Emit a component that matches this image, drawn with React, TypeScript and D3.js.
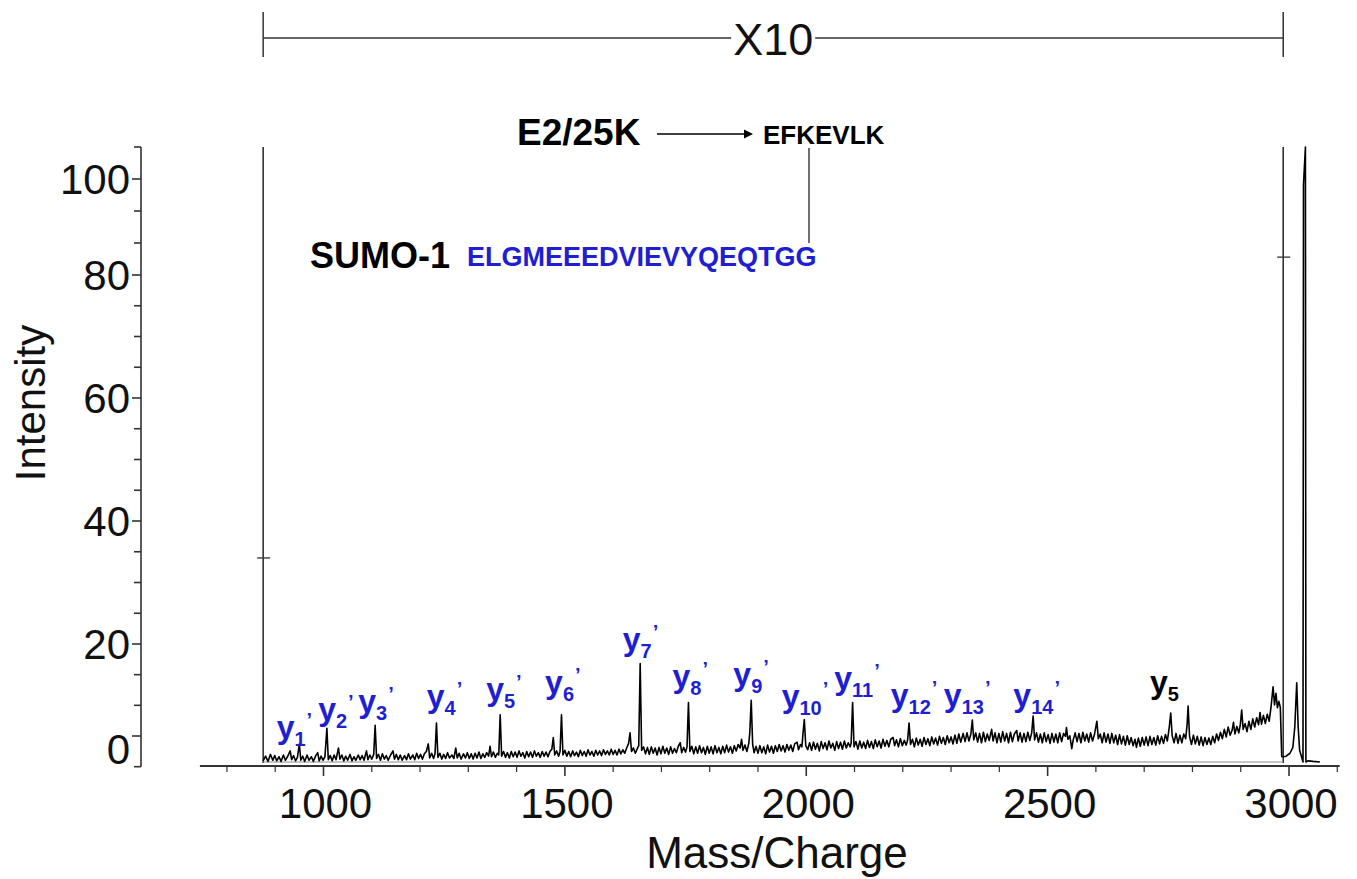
import React from "react";
import * as d3 from "d3";

const W = 1357;
const H = 879;

// ---------- data ----------
const xMajorTicks = [1000, 1500, 2000, 2500, 3000];
const xMinorTicks = [800, 900, 1100, 1200, 1300, 1400, 1600, 1700, 1800, 1900, 2100, 2200, 2300, 2400, 2600, 2700, 2800, 2900, 3100];
const xAxisExtent = [744, 3105];

const yMajorTicks = [0, 20, 40, 60, 80, 100];
const yMinorTicks = [-6.67, 6.67, 13.33, 25, 30, 35, 45, 50, 55, 65, 70, 75, 86.67, 93.33, 106.67];

// magnified (X10) window in m/z
const magnifiedRange = [875, 2988];
const magnifiedLabel = "X10";
const frameMarks: [number, number][] = [[875, 35], [2988, 86.6]];

// spectrum: [m/z, displayed intensity]
const spectrum: [number, number][] = [
  [875, 0.2], [880, 1.0], [885, 0.1], [890, 1.3], [895, 0.3], [899, 1.1], [903, 0.2], [908, 0.9], [912, 0.1], [917, 1.2],
  [921, 0.3], [926, 1.0], [931, 1.9], [934, 0.4], [938, 1.1], [942, 0.2], [946, 0.8], [950, 3.1], [953, 0.3], [957, 1.0],
  [961, 0.1], [966, 1.2], [970, 0.3], [975, 0.9], [979, 0.1], [984, 1.1], [988, 1.6], [991, 0.2], [995, 1.0], [999, 0.3],
  [1003, 0.9], [1007, 5.8], [1010, 0.4], [1014, 1.1], [1018, 0.2], [1022, 1.2], [1026, 0.4], [1031, 2.4], [1034, 0.5], [1038, 1.2],
  [1042, 0.2], [1046, 1.0], [1050, 0.3], [1055, 1.3], [1059, 0.2], [1063, 0.9], [1067, 0.3], [1072, 1.2], [1076, 0.4], [1080, 1.1],
  [1084, 0.3], [1089, 1.9], [1092, 0.4], [1096, 1.2], [1100, 0.5], [1104, 1.3], [1107, 6.3], [1110, 0.6], [1114, 1.3], [1118, 0.3],
  [1122, 1.4], [1126, 0.5], [1130, 1.1], [1134, 0.3], [1139, 1.2], [1144, 1.9], [1147, 0.5], [1151, 1.3], [1155, 0.4], [1159, 1.2],
  [1163, 0.3], [1168, 1.1], [1172, 0.4], [1176, 1.4], [1180, 0.5], [1185, 1.2], [1189, 0.4], [1193, 1.5], [1197, 0.6], [1201, 1.3],
  [1205, 0.5], [1209, 1.4], [1213, 1.8], [1217, 3.1], [1220, 0.7], [1224, 1.5], [1228, 0.6], [1231, 1.4], [1234, 6.7], [1237, 0.8],
  [1241, 1.5], [1245, 0.5], [1249, 1.3], [1253, 0.6], [1257, 1.6], [1261, 0.7], [1266, 1.2], [1270, 0.6], [1274, 2.4], [1277, 0.7],
  [1281, 1.5], [1285, 0.5], [1290, 1.4], [1294, 0.7], [1298, 1.6], [1302, 0.6], [1306, 1.4],
  [1310, 0.5], [1314, 1.5], [1318, 0.7], [1322, 1.7], [1326, 0.6], [1330, 1.4], [1334, 0.8], [1338, 1.6], [1342, 1.0], [1345, 2.7],
  [1348, 0.9], [1352, 1.7], [1356, 0.8], [1360, 1.5], [1363, 1.2], [1366, 8.1], [1369, 1.0], [1373, 1.8], [1377, 0.8], [1381, 1.6],
  [1385, 0.7], [1389, 1.8], [1393, 0.9], [1397, 1.7], [1401, 0.8], [1405, 1.9], [1409, 1.0], [1413, 1.6], [1417, 0.7], [1421, 1.8],
  [1425, 0.9], [1429, 1.7], [1433, 0.8], [1437, 1.9], [1441, 1.0], [1445, 1.6], [1449, 0.8], [1453, 1.8], [1457, 1.0], [1461, 1.7],
  [1465, 0.9], [1469, 1.8], [1473, 2.2], [1476, 4.2], [1479, 1.2], [1483, 1.9], [1487, 1.0], [1490, 1.8], [1493, 8.1], [1496, 1.2],
  [1500, 2.0], [1504, 1.0], [1508, 1.8], [1512, 0.9], [1516, 1.9], [1520, 1.1], [1524, 1.7], [1528, 0.9], [1532, 2.0], [1536, 1.1],
  [1540, 1.8], [1544, 1.0], [1548, 2.1], [1552, 1.2], [1556, 1.8], [1560, 1.0], [1564, 2.0], [1568, 1.2], [1572, 1.9], [1576, 1.1],
  [1580, 2.1], [1584, 1.3], [1588, 1.9], [1592, 1.2], [1596, 2.2], [1600, 1.3], [1604, 2.0], [1608, 1.2], [1612, 2.2], [1616, 1.4],
  [1620, 2.1], [1624, 1.5], [1628, 2.4], [1632, 3.2], [1635, 5.0], [1638, 1.8], [1642, 2.4], [1646, 1.5], [1650, 2.3], [1653, 2.8],
  [1656, 16.9], [1659, 2.0],
  [1663, 2.6], [1667, 1.4], [1671, 2.5], [1675, 1.3], [1679, 2.6], [1683, 1.5], [1687, 2.4], [1691, 1.2], [1695, 2.5], [1699, 1.4],
  [1703, 2.7], [1707, 1.5], [1711, 2.4], [1715, 1.3], [1719, 2.6], [1723, 1.5], [1727, 2.3], [1731, 1.6], [1735, 2.7], [1739, 3.3],
  [1742, 1.6], [1746, 2.5], [1750, 1.7], [1753, 2.6], [1756, 10.2], [1759, 1.8], [1763, 2.7], [1767, 1.4], [1771, 2.6], [1775, 1.5],
  [1779, 2.8], [1783, 1.6], [1787, 2.5], [1791, 1.3], [1795, 2.7], [1799, 1.5], [1803, 2.6], [1807, 1.4], [1811, 2.8], [1815, 1.6],
  [1819, 2.5], [1823, 1.4], [1827, 2.7], [1831, 1.6], [1835, 2.9], [1839, 1.7], [1843, 2.6], [1847, 1.5], [1851, 2.8], [1855, 1.9],
  [1859, 3.0], [1863, 2.4], [1866, 3.9], [1869, 2.0], [1873, 2.9], [1877, 1.8], [1881, 3.2], [1883, 5.0], [1886, 10.6], [1889, 3.0],
  [1892, 1.6], [1896, 2.7], [1900, 1.5], [1904, 2.8], [1908, 1.6], [1912, 2.6], [1916, 1.4], [1920, 2.9], [1924, 1.7], [1928, 2.7],
  [1932, 1.5], [1936, 2.8], [1940, 1.8], [1944, 3.0], [1948, 1.9], [1952, 2.8], [1956, 1.7], [1960, 3.0], [1964, 2.0], [1968, 2.9],
  [1972, 1.8], [1976, 3.1], [1981, 3.4], [1984, 2.1], [1988, 3.0], [1991, 2.6], [1993, 4.6], [1996, 7.3], [1999, 2.8],
  [2003, 2.1], [2007, 3.3], [2011, 2.0], [2015, 3.4], [2019, 2.2], [2023, 3.2], [2027, 1.9], [2031, 3.5], [2035, 2.3], [2039, 3.3],
  [2043, 2.1], [2047, 3.6], [2051, 2.4], [2055, 3.2], [2059, 2.0], [2063, 3.5], [2067, 2.3], [2071, 3.4], [2075, 2.2], [2079, 3.6],
  [2083, 2.4], [2087, 3.3], [2091, 2.6], [2093, 3.2], [2096, 10.2], [2099, 2.6], [2103, 3.5], [2107, 2.2], [2111, 3.6], [2115, 2.4],
  [2119, 3.4], [2123, 2.3], [2127, 3.7], [2131, 2.5], [2135, 3.5], [2139, 2.3], [2143, 3.8], [2147, 2.6], [2151, 3.6], [2155, 2.4],
  [2159, 3.9], [2163, 2.7], [2167, 3.7], [2171, 2.6], [2175, 3.9], [2180, 4.2], [2183, 2.8], [2187, 3.8], [2191, 2.6], [2195, 4.0],
  [2199, 2.8], [2203, 3.7], [2207, 2.9], [2210, 3.8], [2213, 6.7], [2216, 3.0], [2220, 3.9], [2224, 2.6], [2228, 4.1], [2232, 2.9],
  [2236, 3.9], [2240, 2.7], [2244, 4.2], [2248, 3.0], [2252, 4.0], [2256, 2.8], [2260, 4.3], [2264, 3.1], [2268, 4.1], [2272, 2.9],
  [2276, 4.4], [2280, 3.2], [2284, 4.2], [2288, 3.0], [2292, 4.5], [2296, 3.3], [2300, 4.3],
  [2304, 3.1], [2308, 4.6], [2312, 3.2], [2316, 4.8], [2320, 3.4], [2325, 4.9], [2329, 3.5], [2333, 5.0], [2337, 3.6], [2341, 4.8],
  [2344, 7.2], [2347, 3.8], [2351, 5.0], [2355, 3.4], [2359, 4.9], [2363, 3.3], [2367, 5.1], [2371, 3.5], [2375, 4.8], [2379, 3.7],
  [2384, 5.6], [2387, 3.6], [2391, 5.0], [2395, 3.3], [2399, 4.9], [2403, 3.4], [2407, 5.2], [2411, 3.6], [2415, 4.9], [2419, 3.3],
  [2423, 5.1], [2427, 3.5], [2431, 4.8], [2436, 5.4], [2439, 3.6], [2443, 5.0], [2447, 3.4], [2451, 4.9], [2455, 3.5], [2459, 5.1],
  [2463, 3.7], [2467, 5.0], [2470, 7.9], [2473, 3.8], [2477, 5.0], [2481, 3.4], [2485, 4.8], [2489, 3.3], [2493, 5.0], [2497, 3.5],
  [2501, 4.7], [2505, 3.2], [2509, 4.9], [2513, 3.4], [2517, 4.8], [2521, 3.3], [2525, 5.0], [2529, 3.5], [2533, 4.9], [2537, 4.4],
  [2539, 5.9], [2542, 3.9], [2546, 4.5], [2550, 2.3], [2553, 3.8], [2557, 5.0], [2561, 3.5], [2565, 4.9], [2569, 3.3], [2573, 5.1],
  [2577, 3.6], [2581, 4.8], [2585, 3.4], [2589, 5.0], [2593, 3.6], [2597, 4.7], [2602, 7.0], [2605, 4.0], [2609, 4.8], [2613, 3.3],
  [2617, 5.0], [2621, 3.4], [2625, 4.8], [2629, 3.2], [2633, 4.9], [2637, 3.3], [2641, 4.6], [2645, 3.0], [2649, 4.7], [2653, 3.1],
  [2657, 4.4], [2661, 2.9], [2665, 4.5], [2669, 3.0], [2673, 4.2], [2677, 2.8], [2681, 3.9], [2684, 2.5], [2688, 4.1], [2692, 2.7],
  [2696, 4.2], [2700, 2.9], [2704, 4.3], [2708, 2.8], [2712, 4.4], [2716, 3.0], [2720, 4.2], [2724, 2.9], [2728, 4.5], [2732, 3.1],
  [2736, 4.4], [2740, 3.2], [2744, 4.7], [2748, 3.6], [2752, 6.0], [2755, 8.4], [2758, 4.5], [2762, 3.3], [2766, 4.9], [2770, 3.2],
  [2774, 4.6], [2778, 3.3], [2782, 4.8], [2786, 4.0], [2789, 6.5], [2791, 9.6], [2794, 4.4], [2798, 3.0], [2802, 4.6], [2806, 3.1],
  [2810, 4.4], [2814, 2.9], [2818, 4.3], [2822, 2.8], [2826, 4.2], [2830, 3.0], [2834, 4.1], [2838, 3.0], [2842, 4.4], [2846, 3.3],
  [2850, 4.8],
  [2854, 3.7], [2858, 5.1], [2862, 4.0], [2866, 5.6], [2870, 4.3], [2874, 6.0], [2878, 4.6], [2882, 5.4], [2885, 6.8], [2888, 4.8],
  [2892, 6.1], [2896, 5.0], [2899, 6.3], [2902, 8.9], [2905, 5.6], [2909, 6.6], [2913, 5.2], [2917, 7.0], [2921, 5.6], [2925, 7.4],
  [2929, 6.0], [2933, 7.6], [2937, 6.4], [2940, 8.5], [2943, 6.5], [2947, 8.0], [2951, 6.6], [2955, 8.2], [2959, 7.0], [2963, 9.6],
  [2967, 12.9], [2970, 9.8], [2973, 11.8], [2976, 9.3], [2979, 10.4], [2982, 9.4], [2985, 0.9],
  [2988, 0.9], [2994, 1.0], [3002, 1.5], [3008, 2.5], [3012, 6.0], [3016, 13.6], [3019, 6.0], [3022, 2.0], [3026, 0.9], [3029, 0.0],
  [3030, 99.0], [3034, 105.5], [3035, 0.0], [3040, 0.2], [3050, 0.1], [3064, 0.0],
];

// fragment-ion annotations
const ionSub = ["1", "2", "3", "4", "5", "6", "7", "8", "9", "10", "11", "12", "13", "14", "5"];
const ionPrime = [true, true, true, true, true, true, true, true, true, true, true, true, true, true, false];
const ionSumo = [true, true, true, true, true, true, true, true, true, true, true, true, true, true, false];
const ionLabelMz = [903, 989, 1072, 1214, 1337, 1459, 1620, 1723, 1849, 1949, 2058, 2175, 2285, 2429, 2712];
const ionLabelLevel = [4.1, 7.2, 8.6, 9.5, 10.7, 11.9, 19.2, 12.8, 13.2, 9.5, 12.6, 9.6, 9.6, 9.6, 11.8];

const FONT = "'Liberation Sans', Arial, Helvetica, sans-serif";
const BLUE = "#1e1ed2";

export default function App() {
  const x = d3.scaleLinear().domain([1000, 3000]).range([323.5, 1289]);
  // data intensity scale
  const y = d3.scaleLinear().domain([0, 100]).range([762, 179]);
  // axis scale as printed on the figure (piecewise)
  const yAxis = d3.scaleLinear().domain([0, 20, 80, 100]).range([736, 644, 275, 179]);

  const line = d3
    .line<[number, number]>()
    .x((d) => x(d[0]))
    .y((d) => y(d[1]));

  const axisX = 141;
  const axisTop = yAxis(106.67);
  const axisBottom = yAxis(-6.67);
  const xAxisY = 766;
  const fx0 = x(magnifiedRange[0]);
  const fx1 = x(magnifiedRange[1]);
  const fTop = y(105.5);

  return (
    <svg
      width={W}
      height={H}
      style={{ position: "absolute", left: 0, top: 0, background: "#fff" }}
      fontFamily={FONT}
    >
      <rect x={0} y={0} width={W} height={H} fill="#fff" />

      {/* X10 bracket */}
      <g stroke="#333" strokeWidth={1.5}>
        <line x1={fx0} x2={fx1} y1={38} y2={38} />
        <line x1={fx0} x2={fx0} y1={12} y2={57} />
        <line x1={fx1} x2={fx1} y1={12} y2={57} />
      </g>
      <rect x={(fx0 + fx1) / 2 - 42} y={18} width={84} height={40} fill="#fff" />
      <text x={(fx0 + fx1) / 2} y={55} textAnchor="middle" fontSize={45} fill="#111">
        {magnifiedLabel}
      </text>

      {/* magnified window frame */}
      <g stroke="#333" strokeWidth={1.6}>
        <line x1={fx0} x2={fx0} y1={fTop} y2={y(0) + 1} />
        <line x1={fx1} x2={fx1} y1={fTop} y2={y(0) + 1} />
      </g>
      <line x1={fx0} x2={fx1} y1={y(0)} y2={y(0)} stroke="#8a8a8a" strokeWidth={1} />
      {frameMarks.map((m, i) => (
        <line key={i} x1={x(m[0]) - 6} x2={x(m[0]) + 7} y1={y(m[1])} y2={y(m[1])} stroke="#333" strokeWidth={1.3} />
      ))}

      {/* spectrum */}
      <path d={line(spectrum) || ""} fill="none" stroke="#000" strokeWidth={1.6} strokeLinejoin="round" />

      {/* ion labels */}
      {ionSub.map((s, i) => (
        <text
          key={i}
          x={x(ionLabelMz[i])}
          y={y(ionLabelLevel[i])}
          fontSize={32}
          fontWeight="bold"
          fill={ionSumo[i] ? BLUE : "#000"}
        >
          y
          <tspan fontSize={20} dy={8}>
            {s}
          </tspan>
          {ionPrime[i] ? (
            <tspan fontSize={20} dx={1} dy={-19}>
              ’
            </tspan>
          ) : null}
        </text>
      ))}

      {/* sequence annotation */}
      <text x={517} y={145} fontSize={37} fontWeight="bold" fill="#000">
        E2/25K
      </text>
      <line x1={657} x2={745} y1={134} y2={134} stroke="#000" strokeWidth={1.5} />
      <path d="M744,129.5 L753,134 L744,138.5 Z" fill="#000" />
      <text x={763} y={144} fontSize={26} fontWeight="bold" fill="#000">
        EFKEVLK
      </text>
      <line x1={809} x2={809} y1={148} y2={243} stroke="#333" strokeWidth={1.4} />
      <text x={310} y={268} fontSize={36} fontWeight="bold" fill="#000">
        SUMO-1
      </text>
      <text x={467} y={266} fontSize={27} fontWeight="bold" fill={BLUE}>
        ELGMEEEDVIEVYQEQTGG
      </text>

      {/* y axis */}
      <g stroke="#333" strokeWidth={1.6}>
        <line x1={axisX} x2={axisX} y1={axisTop} y2={axisBottom} />
        {yMajorTicks.map((t) => (
          <line key={"M" + t} x1={axisX - 9} x2={axisX} y1={yAxis(t)} y2={yAxis(t)} />
        ))}
        {yMinorTicks.map((t) => (
          <line key={"m" + t} x1={axisX - 7} x2={axisX} y1={yAxis(t)} y2={yAxis(t)} />
        ))}
      </g>
      {yMajorTicks.map((t) => (
        <text
          key={"L" + t}
          x={130}
          y={yAxis(t) + (t === 0 ? 13 : 0)}
          dy="0.36em"
          textAnchor="end"
          fontSize={42}
          fill="#111"
        >
          {t}
        </text>
      ))}
      <text
        transform={`translate(45, 403) rotate(-90)`}
        textAnchor="middle"
        fontSize={42}
        fill="#111"
      >
        Intensity
      </text>

      {/* x axis */}
      <g stroke="#333">
        <line x1={x(xAxisExtent[0])} x2={x(xAxisExtent[1])} y1={xAxisY} y2={xAxisY} strokeWidth={2} />
        {xMajorTicks.map((t) => (
          <line key={"M" + t} x1={x(t)} x2={x(t)} y1={xAxisY} y2={xAxisY + 10} strokeWidth={1.6} />
        ))}
        {xMinorTicks.map((t) => (
          <line key={"m" + t} x1={x(t)} x2={x(t)} y1={xAxisY} y2={xAxisY + 6} strokeWidth={1.2} />
        ))}
      </g>
      {xMajorTicks.map((t) => (
        <text key={"L" + t} x={x(t) + 2} y={818} textAnchor="middle" fontSize={42} fill="#111">
          {t}
        </text>
      ))}
      <text x={777} y={868} textAnchor="middle" fontSize={44} fill="#111">
        Mass/Charge
      </text>
    </svg>
  );
}
